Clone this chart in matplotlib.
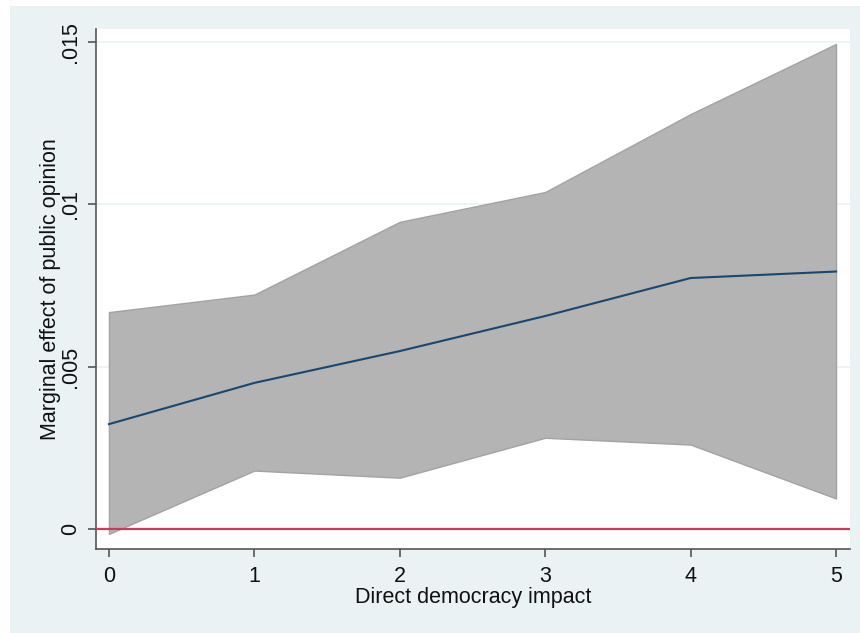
import matplotlib
matplotlib.use("Agg")
import matplotlib.pyplot as plt
from matplotlib.patches import Rectangle

# Direct democracy impact levels
impact = [0, 1, 2, 3, 4, 5]
# Marginal effect of public opinion and its confidence band
effect = [0.00323, 0.00450, 0.00548, 0.00656, 0.00773, 0.00793]
upper = [0.00668, 0.00722, 0.00946, 0.01038, 0.01278, 0.01494]
lower = [-0.00015, 0.00180, 0.00158, 0.00281, 0.00260, 0.00094]

yticks = [0, 0.005, 0.01, 0.015]
ytick_labels = ["0", ".005", ".01", ".015"]

plt.rcParams["font.family"] = ["Liberation Sans", "DejaVu Sans"]
FS = 15.5

fig = plt.figure(figsize=(8.6, 6.33), dpi=100, facecolor="white")
# light graph-region background, kept behind the axes
fig.patches.append(Rectangle((10 / 860, 0), 1 - 10 / 860, 1 - 6 / 633,
                             transform=fig.transFigure, facecolor="#EAF2F3",
                             edgecolor="none", zorder=-10))

ax = fig.add_axes([96 / 860, 1 - 549 / 633, (850 - 96) / 860, (549 - 29) / 633])
ax.set_facecolor("white")

ax.set_xlim(-0.089, 5.096)
ax.set_ylim(-0.000616, 0.0154)

for yt in yticks[1:]:
    ax.axhline(yt, color="#EAF2F3", lw=1.2, zorder=0.5)

ax.fill_between(impact, lower, upper, facecolor="#B4B4B4",
                edgecolor="#A3A3A3", lw=1.0, zorder=1)
ax.plot(impact, effect, color="#1A476F", lw=1.5, zorder=2)
ax.axhline(0, color="#D2385F", lw=1.6, zorder=3)

ax.set_xticks(impact)
ax.set_xticklabels([str(v) for v in impact], fontsize=FS)
ax.set_yticks(yticks)
ax.set_yticklabels(ytick_labels, fontsize=FS, rotation=90, va="center")

for side in ("top", "right"):
    ax.spines[side].set_visible(False)
for side in ("left", "bottom"):
    ax.spines[side].set_color("#555555")
    ax.spines[side].set_linewidth(1.2)

ax.tick_params(axis="both", direction="out", length=6, width=1.2,
               color="#555555", labelcolor="#111111")
ax.tick_params(axis="x", pad=6)
ax.tick_params(axis="y", pad=5)

ax.set_xlabel("Direct democracy impact", fontsize=FS, labelpad=0, color="#111111")
ax.set_ylabel("Marginal effect of public opinion", fontsize=FS, labelpad=-1,
              color="#111111")

fig.savefig("out.png", dpi=100, facecolor=fig.get_facecolor())
